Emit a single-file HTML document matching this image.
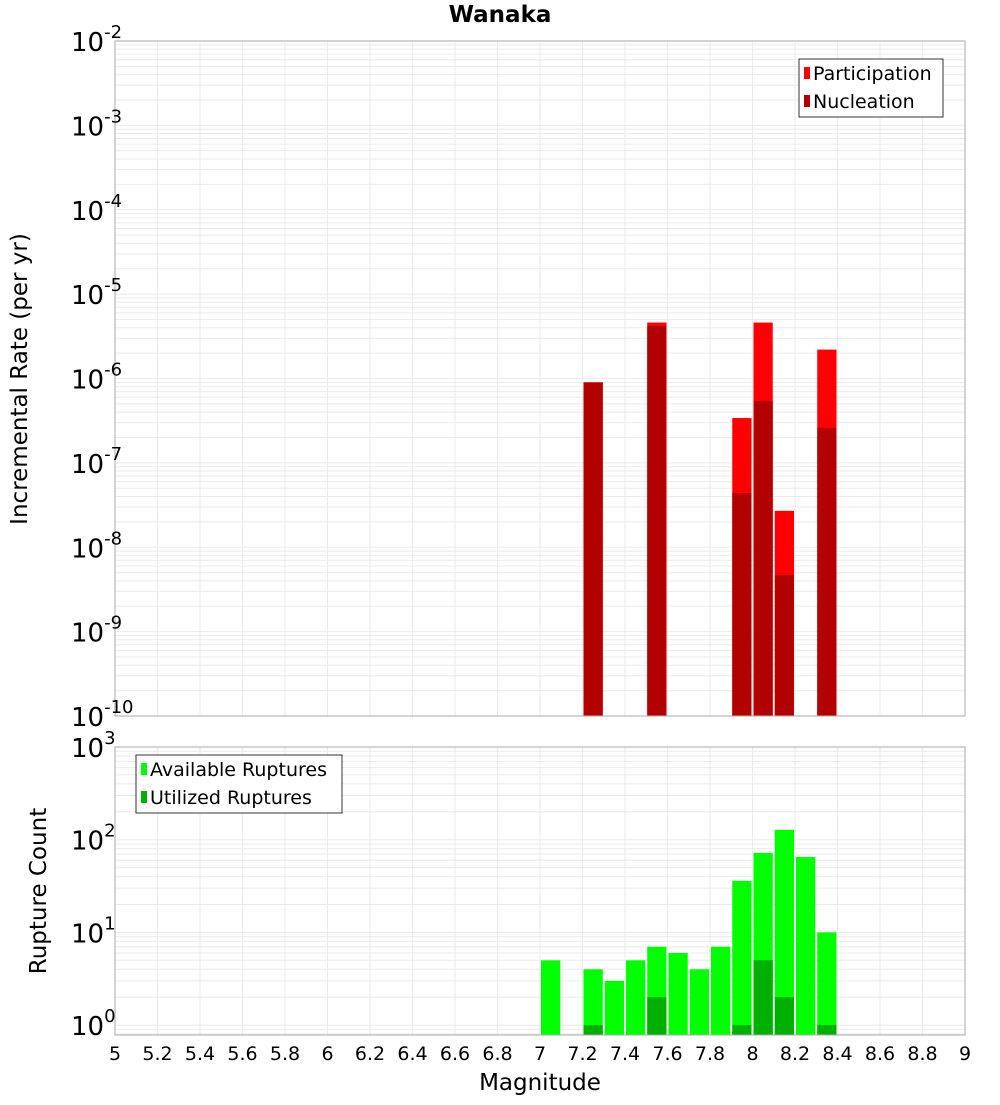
<!DOCTYPE html>
<html><head><meta charset="utf-8"><style>
body{margin:0;background:#fff;width:1000px;height:1100px;overflow:hidden}
svg text{font-family:"DejaVu Sans","Liberation Sans",sans-serif}
</style></head><body>
<svg id="chart" width="1000" height="1100" xmlns="http://www.w3.org/2000/svg"></svg>
<script>
const binCenters=[7.05,7.25,7.35,7.45,7.55,7.65,7.75,7.85,7.95,8.05,8.15,8.25,8.35];
const participation=[0,9e-7,0,0,4.6e-6,0,0,0,3.4e-7,4.6e-6,2.7e-8,0,2.2e-6];
const nucleation=[0,9e-7,0,0,4.2e-6,0,0,0,4.4e-8,5.4e-7,4.7e-9,0,2.6e-7];
const available=[5,4,3,5,7,6,4,7,36,72,128,65,10];
const utilized=[0,1,0,0,2,0,0,0,1,5,2,0,1];
const xTicks=[5,5.2,5.4,5.6,5.8,6,6.2,6.4,6.6,6.8,7,7.2,7.4,7.6,7.8,8,8.2,8.4,8.6,8.8,9];
const topExps=[-2,-3,-4,-5,-6,-7,-8,-9,-10];
const botExps=[3,2,1,0];

const svg=document.getElementById('chart');
const NS='http://www.w3.org/2000/svg';
function el(t,a,p){const e=document.createElementNS(NS,t);for(const k in a)e.setAttribute(k,a[k]);(p||svg).appendChild(e);return e;}
const X0=115,X1=965;
const xs=v=>X0+(v-5)/4*(X1-X0);
const T0=41,T1=716;
const ys1=v=>T0+(-2-Math.log10(v))*(T1-T0)/8;
const B0=747,B1=1035,BD=92.7;
const ys2=v=>B0+(3-Math.log10(v))*BD;

function grid(y0,y1,ysc,lo,hi){
  for(let e=lo;e<hi;e++)for(let m=1;m<10;m++){const y=ysc(m*Math.pow(10,e));if(y<y0-0.5||y>y1+0.5)continue;
    const l=el('line',{x1:X0,x2:X1,y1:y,y2:y,stroke:'#ebebeb','stroke-width':1});
    
    }
  xTicks.forEach(t=>{const l=el('line',{x1:xs(t),x2:xs(t),y1:y0,y2:y1,stroke:'#ebebeb','stroke-width':1});
    
    });
}
grid(T0,T1,ys1,-10,-2);
grid(B0,B1,ys2,-1,3);

function bar(c,v,ysc,base,fill,name){
  if(!v)return;const x0=xs(c-0.05)+1,x1=xs(c+0.05)-1,y=ysc(v);
  const r=el('rect',{x:x0,y:y,width:x1-x0,height:base-y,fill:fill});
  
  
}
binCenters.forEach((c,i)=>{bar(c,participation[i],ys1,T1,'#ff0000','participation-bar');bar(c,nucleation[i],ys1,T1,'#b30000','nucleation-bar');});
binCenters.forEach((c,i)=>{bar(c,available[i],ys2,B1,'#00ff00','available-bar');bar(c,utilized[i],ys2,B1,'#00b000','utilized-bar');});

function frame(y0,y1,name){const r=el('rect',{x:X0,y:y0,width:X1-X0,height:y1-y0,fill:'none',stroke:'#aaa','stroke-width':1});
  
  }
frame(T0,T1,'top-plot-frame');frame(B0,B1,'bottom-plot-frame');

function ylab(e,y,name){const t=el('text',{x:71,y:y+10,'font-size':26,fill:'#000'});
  
  
  t.textContent='10';const s=el('tspan',{dy:-13,'font-size':18},t);s.textContent=String(e);}
topExps.forEach(e=>ylab(e,ys1(Math.pow(10,e)),'top-y-tick-label'));
botExps.forEach(e=>ylab(e,ys2(Math.pow(10,e)),'bottom-y-tick-label'));
xTicks.forEach(t=>{const tx=el('text',{x:xs(t),y:1060,'font-size':19,'text-anchor':'middle'});
  
  
  tx.textContent=String(t);});

function txt(s,a,name){const t=el('text',a);t.textContent=s;return t;}
txt('Wanaka',{x:500,y:22,'font-size':23,'font-weight':'bold','text-anchor':'middle'},'chart-title');
txt('Magnitude',{x:540,y:1090,'font-size':23,'text-anchor':'middle'},'x-axis-title');
txt('Incremental Rate (per yr)',{x:0,y:0,'font-size':23,'text-anchor':'middle',transform:'translate(27,379) rotate(-90)'},'top-y-axis-title');
txt('Rupture Count',{x:0,y:0,'font-size':23,'text-anchor':'middle',transform:'translate(46,891) rotate(-90)'},'bottom-y-axis-title');

function legend(x,y,w,items,name){
  const g=el('g',{});
  el('rect',{x:x,y:y,width:w,height:58,fill:'#fff',stroke:'#333','stroke-width':1},g);
  items.forEach((it,i)=>{const yy=y+14+i*28;
    el('rect',{x:x+5,y:yy-6,width:6,height:12,fill:it[1]},g);
    const t=el('text',{x:x+14,y:yy+7,'font-size':19},g);t.textContent=it[0];
    });
}
legend(799,59,144,[['Participation','#ff0000'],['Nucleation','#b30000']],'top-legend');
legend(136,755,206,[['Available Ruptures','#00ff00'],['Utilized Ruptures','#00b000']],'bottom-legend');
</script>
</body></html>
